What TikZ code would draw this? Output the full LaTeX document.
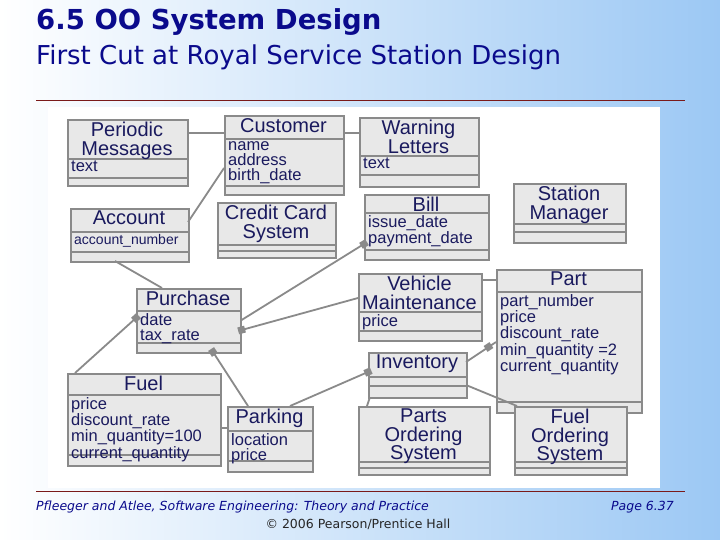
\documentclass[tikz,border=0pt]{standalone}
\usepackage{fontspec}
\setmainfont{Liberation Sans}
\newfontfamily\dejavu{DejaVu Sans}
\newfontfamily\arial{Liberation Sans}
\usetikzlibrary{calc}
\definecolor{ink}{HTML}{1A1A5E}
\definecolor{boxfill}{HTML}{E8E8E8}
\definecolor{boxline}{HTML}{8A8A8A}
\definecolor{bgblue}{HTML}{9CC8F4}
\definecolor{titleblue}{HTML}{0A0A8C}
\definecolor{rulered}{HTML}{7A1A1A}
\tikzset{
  cls/.style={draw=boxline,fill=boxfill,line width=1.6pt,anchor=north west,inner sep=0pt},
  sepl/.style={draw=boxline,line width=1.4pt},
  ttl/.style={text=ink,font=\arial\fontsize{20}{18.5}\selectfont,align=center,inner sep=0pt,anchor=north},
  att/.style={text=ink,font=\arial\fontsize{16.5}{15.2}\selectfont,align=left,inner sep=0pt,anchor=north west},
  conn/.style={draw=boxline,line width=1.8pt},
  mk/.style={fill=boxline,minimum size=7pt,inner sep=0pt,sloped}
}
% \umlbox{name}{x1}{y1}{x2}{y2}{sep1}{sep2}{title}{attrs}
\newcommand{\umlbox}[9]{%
  \node[cls,minimum width=#4pt-#2pt,minimum height=#5pt-#3pt] (#1) at (#2,#3) {};
  \draw[sepl] (#2,#6) -- (#4,#6);
  \draw[sepl] (#2,#7) -- (#4,#7);
  \node[ttl] (#1t) at ({(#2+#4)/2},#3+3) {#8};
  \node[att] (#1a) at (#2+4,#6+2) {#9};
}
\begin{document}
\begin{tikzpicture}[x=1pt,y=-1pt]
\useasboundingbox (0,0) rectangle (720,540);
\shade[left color=white,right color=bgblue] (0,0) rectangle (720,540);
\node[anchor=north west,inner sep=0pt,text=titleblue,font=\dejavu\bfseries\fontsize{27.5}{30}\selectfont] (h1) at (36,8) {6.5 OO System Design};
\node[anchor=north west,inner sep=0pt,text=titleblue,font=\dejavu\fontsize{26}{28}\selectfont] (h2) at (36,45) {First Cut at Royal Service Station Design};
\draw[rulered,line width=1pt] (36,101) -- (685,101);
\fill[white] (48,107) rectangle (660,488);

\umlbox{pm}{67}{119}{187}{185}{159}{178}{Periodic\\Messages}{text}
\umlbox{cu}{224}{115}{343}{194}{139}{186}{Customer}{name\\address\\birth\_date}
\umlbox{wl}{359}{117}{478}{186}{156}{175}{Warning\\Letters}{text}
\umlbox{ac}{70}{208}{188}{261}{232}{252}{Account}{\fontsize{14}{14}\selectfont account\_number}
\umlbox{cc}{217}{202}{335}{257}{245}{251}{Credit Card\\System}{}
\umlbox{bi}{364}{194}{488}{259}{213}{250}{Bill}{issue\_date\\payment\_date}
\umlbox{sm}{513}{183}{625}{242}{224}{232}{Station\\Manager}{}
\umlbox{pu}{136}{288}{240}{352}{311}{343}{Purchase}{date\\tax\_rate}
\umlbox{vm}{358}{273}{481}{340}{312}{331}{Vehicle\\Maintenance}{price}
\umlbox{pa}{496}{269}{641}{412}{292}{402}{Part}{part\_number\\price\\discount\_rate\\min\_quantity =2\\current\_quantity}
\umlbox{in}{368}{352}{466}{397}{377}{386}{Inventory}{}
\umlbox{fu}{67}{373}{220}{465}{395}{455}{Fuel}{price\\discount\_rate\\min\_quantity=100\\current\_quantity}
\umlbox{pk}{227}{406}{312}{471}{431}{461}{Parking}{location\\price}
\umlbox{po}{358}{406}{489}{474}{462}{468}{Parts\\Ordering\\System}{}
\umlbox{fo}{514}{406}{626}{474}{462}{468}{Fuel\\Ordering\\System}{}

% connectors
\draw[conn] (pm.east|-0,133) -- (cu.west|-0,133);
\draw[conn] (cu.east|-0,133) -- (wl.west|-0,133);
\draw[conn] (188,222) -- (cu.west|-0,168);
\draw[conn] (115,261) -- (162,288);
\draw[conn] (pu.east|-0,320) -- node[mk,pos=1]{} (bi.west|-0,244);
\draw[conn] (vm.west|-0,298) -- node[mk,pos=1]{} (pu.east|-0,330);
\draw[conn] (75,373) -- node[mk,pos=1]{} (pu.west|-0,318);
\draw[conn] (248,406) -- node[mk,pos=1]{} (213,352);
\draw[conn] (290,406) -- node[mk,pos=1]{} (in.west|-0,372);
\draw[conn] (fu.east|-0,428) -- (pk.west|-0,428);
\draw[conn] (370,397) -- (367,406);
\draw[conn] (466,385) -- (517,406);
\draw[conn] (466,362) -- node[mk,pos=0.75]{} (496,342);
\draw[conn] (vm.east|-0,280) -- (pa.west|-0,280);

% footer
\draw[rulered,line width=0.8pt] (36,491) -- (685,491);
\node[anchor=north west,inner sep=0pt,text=titleblue,font=\dejavu\itshape\fontsize{12.5}{14}\selectfont] (f1) at (36,501) {Pfleeger and Atlee, Software Engineering: Theory and Practice};
\node[anchor=north,inner sep=0pt,text=black!85,font=\dejavu\fontsize{12.5}{14}\selectfont] (f2) at (358,519) {© 2006 Pearson/Prentice Hall};
\node[anchor=north east,inner sep=0pt,text=titleblue,font=\dejavu\itshape\fontsize{12.5}{14}\selectfont] (f3) at (674,501) {Page 6.37};
\end{tikzpicture}
\end{document}
